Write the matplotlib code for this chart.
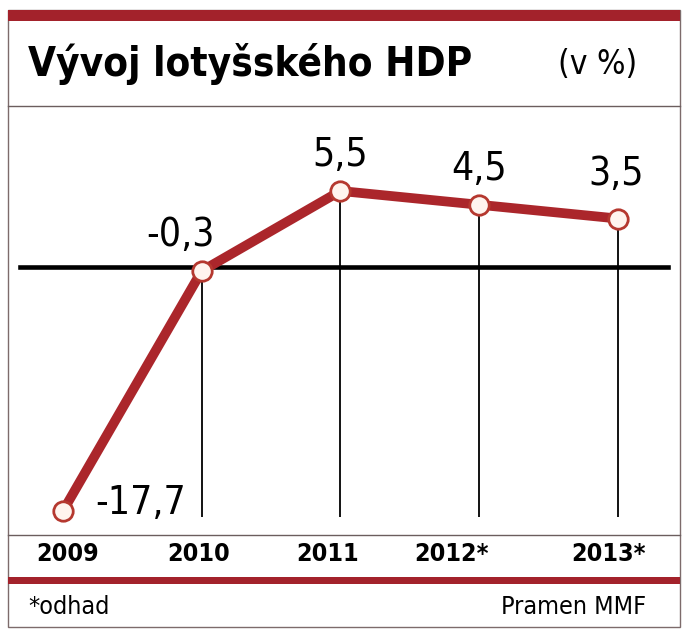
import matplotlib
matplotlib.use("Agg")
import matplotlib.pyplot as plt

years = ["2009", "2010", "2011", "2012*", "2013*"]
values = [-17.7, -0.3, 5.5, 4.5, 3.5]
value_labels = ["-17,7", "-0,3", "5,5", "4,5", "3,5"]
title = "Vývoj lotyšského HDP"
unit = "(v %)"
note = "*odhad"
source = "Pramen MMF"

plt.rcParams["font.family"] = ["DejaVu Sans"]
plt.rcParams["font.stretch"] = "condensed"

W, H = 688, 638
fig = plt.figure(figsize=(W / 100, H / 100), dpi=100)
fig.patch.set_facecolor("white")

def fx(px):
    return px / W

def fy(py):
    return 1 - py / H

RED = "#a3222b"
LINE_RED = "#ab262b"
COND = dict(fontstretch="condensed")

# frame
fig.add_artist(plt.Rectangle((fx(8), fy(627)), fx(680) - fx(8), fy(10) - fy(627),
                             transform=fig.transFigure, fill=False, edgecolor="#7d6b6b", lw=1.0))
fig.add_artist(plt.Rectangle((fx(8), fy(21)), fx(680) - fx(8), fy(10) - fy(21),
                             transform=fig.transFigure, color=RED, lw=0))
fig.add_artist(plt.Rectangle((fx(8), fy(584)), fx(680) - fx(8), fy(577) - fy(584),
                             transform=fig.transFigure, color=RED, lw=0))
fig.add_artist(plt.Line2D([fx(8), fx(680)], [fy(106), fy(106)], transform=fig.transFigure,
                          color="#6b5e5e", lw=1.0))
fig.add_artist(plt.Line2D([fx(8), fx(680)], [fy(535), fy(535)], transform=fig.transFigure,
                          color="#6b5e5e", lw=1.0))

fig.text(fx(28), fy(64), title, fontsize=29, fontweight="bold", va="center", ha="left", **COND)
fig.text(fx(637), fy(64), unit, fontsize=24, va="center", ha="right", **COND)
fig.text(fx(28), fy(607), note, fontsize=18, va="center", ha="left", **COND)
fig.text(fx(646), fy(607), source, fontsize=18, va="center", ha="right", **COND)

# plot axes
ax = fig.add_axes([fx(8), fy(535), fx(680) - fx(8), fy(106) - fy(535)])
ax.set_facecolor("none")
x = list(range(len(values)))
ax.set_xlim(-0.396, 4.447)
ax.set_ylim(-19.44, 11.66)
ax.axis("off")

ax.axhline(0, xmin=0.018, xmax=0.982, color="black", lw=3.3, zorder=2)
ax.vlines(x[1:], -18.14, values[1:], color="black", lw=1.3, zorder=1)
ax.plot(x, values, color=LINE_RED, lw=7, solid_capstyle="round", zorder=3,
        marker="o", markersize=14, markerfacecolor="#fff4ee", markeredgecolor="#b5382f",
        markeredgewidth=2.0)

offsets = [(56, 6), (-15, 18), (0, 18), (0, 18), (-1, 24)]
for xi, v, lab, (dx, dy) in zip(x, values, value_labels, offsets):
    ax.annotate(lab, (xi, v), xytext=(dx, dy), textcoords="offset points",
                ha="center", va="baseline" if xi > 0 else "center", fontsize=28, **COND)

# year labels
year_dx = [3, -2, -9, -20, -7]
for xi, yr, dx in zip(x, years, year_dx):
    ax.annotate(yr, (xi, 0), xycoords=("data", "axes fraction"), xytext=(dx, -14),
                textcoords="offset points", ha="center", va="center", fontsize=18,
                fontweight="bold", **COND)

fig.savefig("out.png", dpi=100)
